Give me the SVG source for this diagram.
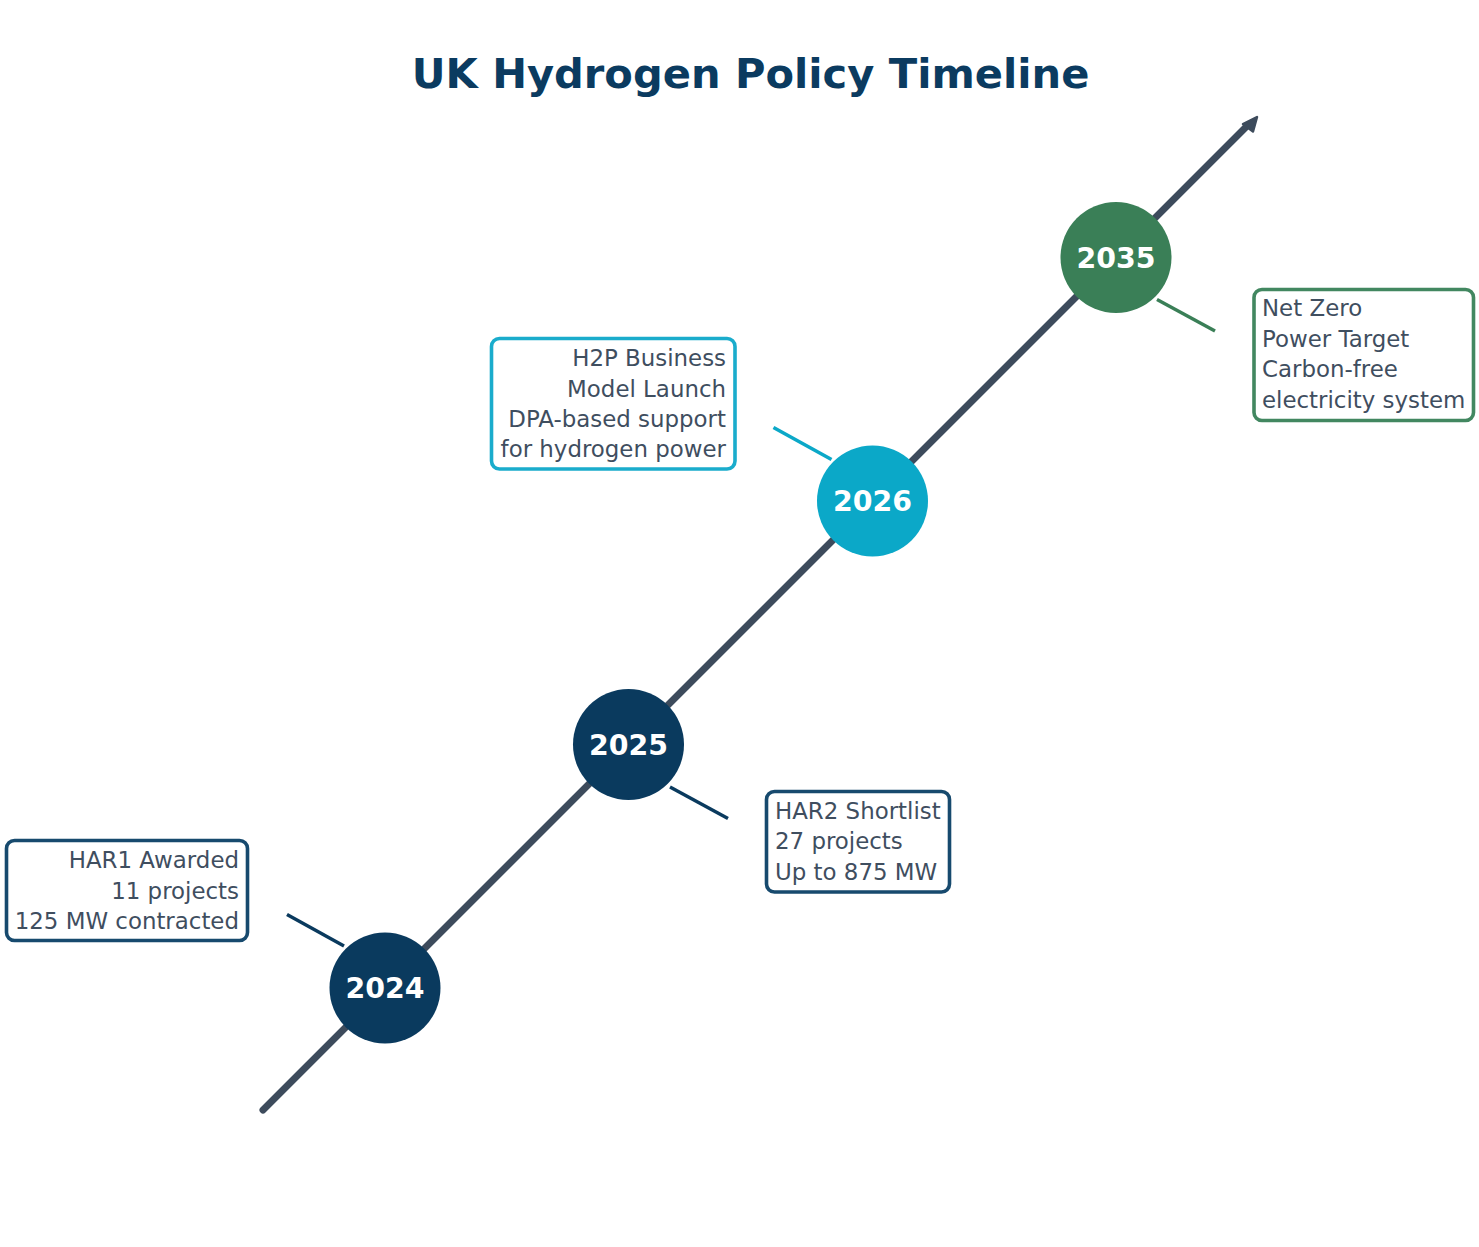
<svg xmlns="http://www.w3.org/2000/svg" width="1479" height="1247" viewBox="0 0 1479 1247">
<style>
.title{font-family:"DejaVu Sans",sans-serif;font-weight:bold;font-size:41.6px;fill:#0b3b60;text-anchor:middle}
.yr{font-family:"DejaVu Sans",sans-serif;font-weight:bold;font-size:28.4px;fill:#ffffff;text-anchor:middle}
.lbl{font-family:"DejaVu Sans",sans-serif;font-size:22.9px;fill:#3f4e5f}
.r{text-anchor:end}
.box{fill:#ffffff;stroke-width:3.6}
.conn{stroke-width:3.5;fill:none;stroke-linecap:butt}
</style>
<rect width="1479" height="1247" fill="#ffffff"/>
<text class="title" x="750.5" y="88">UK Hydrogen Policy Timeline</text>
<g id="axis">
<line x1="263" y1="1110" x2="1247" y2="126" stroke="#3d4b5c" stroke-width="7" stroke-linecap="round"/>
<polygon points="1257,117 1253,131.5 1243,124" fill="#3d4b5c" stroke="#3d4b5c" stroke-width="2.5" stroke-linejoin="round"/>
</g>
<g id="connectors">
<line class="conn" x1="344" y1="946" x2="287" y2="914.5" stroke="#0a3a5e"/>
<line class="conn" x1="670" y1="787" x2="728" y2="818.5" stroke="#0a3a5e"/>
<line class="conn" x1="831.5" y1="459.5" x2="773.5" y2="427.5" stroke="#0ba8c8"/>
<line class="conn" x1="1157" y1="299.5" x2="1215" y2="331" stroke="#3a7f57"/>
</g>
<g id="node-2024">
<circle cx="385" cy="988" r="55.5" fill="#0a3a5e"/>
<text class="yr" x="385" y="998">2024</text>
<rect class="box" x="6.5" y="840.5" width="241" height="100" rx="8" stroke="#174a6e"/>
<text class="lbl r" x="239" y="868">HAR1 Awarded</text>
<text class="lbl r" x="239" y="898.5">11 projects</text>
<text class="lbl r" x="239" y="929">125 MW contracted</text>
</g>
<g id="node-2025">
<circle cx="628.5" cy="744.5" r="55.5" fill="#0a3a5e"/>
<text class="yr" x="628.5" y="754.5">2025</text>
<rect class="box" x="766.5" y="791.5" width="183" height="100.5" rx="8" stroke="#174a6e"/>
<text class="lbl" x="775" y="818.5">HAR2 Shortlist</text>
<text class="lbl" x="775" y="849">27 projects</text>
<text class="lbl" x="775" y="879.5">Up to 875 MW</text>
</g>
<g id="node-2026">
<circle cx="872.5" cy="501" r="55.5" fill="#0ba8c8"/>
<text class="yr" x="872.5" y="511">2026</text>
<rect class="box" x="491.5" y="338.5" width="243.5" height="130.5" rx="8" stroke="#1aaccc"/>
<text class="lbl r" x="726" y="366">H2P Business</text>
<text class="lbl r" x="726" y="396.5">Model Launch</text>
<text class="lbl r" x="726" y="426.5">DPA-based support</text>
<text class="lbl r" x="726" y="457">for hydrogen power</text>
</g>
<g id="node-2035">
<circle cx="1116" cy="257.5" r="55.5" fill="#3a7f57"/>
<text class="yr" x="1116" y="267.5">2035</text>
<rect class="box" x="1254" y="289.5" width="219.5" height="131" rx="8" stroke="#428760"/>
<text class="lbl" x="1262" y="316">Net Zero</text>
<text class="lbl" x="1262" y="346.5">Power Target</text>
<text class="lbl" x="1262" y="377">Carbon-free</text>
<text class="lbl" x="1262" y="407.5">electricity system</text>
</g>
</svg>
